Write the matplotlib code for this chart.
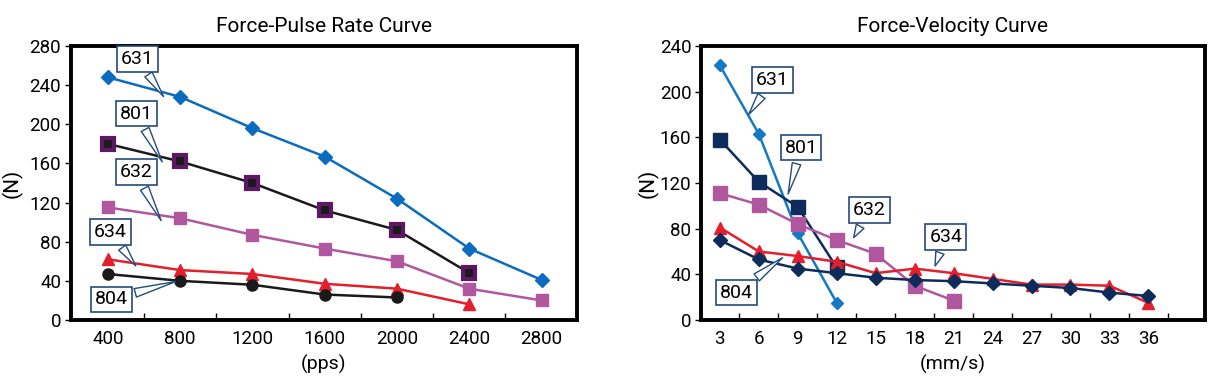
import matplotlib
matplotlib.use('Agg')
from matplotlib import pyplot as plt
from matplotlib.ticker import FixedLocator

plt.rcParams['font.family'] = ['Roboto', 'DejaVu Sans']

# Force-Pulse Rate data
pps = [400, 800, 1200, 1600, 2000, 2400, 2800]
pr_631 = [248, 228, 196, 167, 124, 73, 41]
pr_801 = [180, 162, 140, 112, 92, 48]
pr_632 = [115, 104, 87, 73, 60, 32, 20]
pr_634 = [62, 51, 47, 37, 32, 16]
pr_804 = [47, 40, 36, 26, 23]

# Force-Velocity data
vel = [3, 6, 9, 12, 15, 18, 21, 24, 27, 30, 33, 36]
fv_631 = [223, 163, 76, 15]
fv_801 = [158, 121, 99, 46]
fv_632 = [111, 101, 84, 70, 58, 30, 17]
fv_634 = [81, 60, 56, 51, 41, 45, 41, 36, 31, 31, 30, 15]
fv_804 = [70, 53, 45, 41, 37, 35, 34, 32, 30, 28, 24, 21]

blue = '#0b6cbf'
blue2 = '#1479c4'
purple = '#5e1764'
pink = '#b0579f'
red = '#e21f2b'
navy = '#0d2b5b'
boxc = '#244a7c'

fig = plt.figure(figsize=(12.32, 3.88), dpi=100)
ax1 = fig.add_axes([0.0576, 0.1753, 0.4107, 0.7062])
ax2 = fig.add_axes([0.569, 0.1753, 0.409, 0.7062])


def callout(ax, text, box, tip):
    ax.annotate(text, xy=tip, xytext=box, fontsize=14, ha='center', va='center',
                bbox=dict(boxstyle='square,pad=0.2', fc='white', ec=boxc, lw=1.2),
                arrowprops=dict(arrowstyle='wedge,tail_width=0.45,shrink_factor=0.5',
                                fc='white', ec=boxc, lw=1.0),
                zorder=5)


# left chart
ax1.plot(pps, pr_631, color=blue, lw=1.8, marker='D', ms=7)
ax1.plot(pps[:6], pr_801, color='#1a1a1a', lw=1.8, marker='s', ms=9,
         mfc='#1a1a1a', mec=purple, mew=3)
ax1.plot(pps, pr_632, color=pink, lw=1.8, marker='s', ms=9)
ax1.plot(pps[:6], pr_634, color=red, lw=1.8, marker='^', ms=9)
ax1.plot(pps[:5], pr_804, color='#1a1a1a', lw=1.8, marker='o', ms=8)

callout(ax1, '631', (565, 267), (717, 226))
callout(ax1, '801', (560, 211), (708, 159))
callout(ax1, '632', (557, 151), (702, 99))
callout(ax1, '634', (415, 90), (564, 53))
callout(ax1, '804', (421, 21), (790, 40))

ax1.set_xlim(196, 2996)
ax1.set_ylim(0, 280)
ax1.set_xticks(pps)
ax1.set_yticks(range(0, 281, 40))
ax1.xaxis.set_minor_locator(FixedLocator(range(600, 2700, 400)))
ax1.set_title('Force-Pulse Rate Curve', fontsize=15, pad=10)
ax1.set_xlabel('(pps)', fontsize=14, labelpad=5)
ax1.set_ylabel('(N)', fontsize=15, labelpad=5)

# right chart
ax2.plot(vel[:4], fv_631, color=blue2, lw=1.8, marker='D', ms=6)
ax2.plot(vel[:4], fv_801, color=navy, lw=1.8, marker='s', ms=10)
ax2.plot(vel[:7], fv_632, color=pink, lw=1.8, marker='s', ms=10)
ax2.plot(vel, fv_634, color=red, lw=1.8, marker='^', ms=9)
ax2.plot(vel, fv_804, color=navy, lw=1.8, marker='D', ms=7)

callout(ax2, '631', (7.05, 210), (5.1, 178))
callout(ax2, '801', (9.25, 151), (8.2, 108))
callout(ax2, '632', (14.5, 96), (13.2, 70))
callout(ax2, '634', (20.4, 73), (19.5, 45))
callout(ax2, '804', (4.3, 24), (8.0, 56))

ax2.set_xlim(1.55, 40.35)
ax2.set_ylim(0, 240)
ax2.set_xticks(vel)
ax2.set_yticks(range(0, 241, 40))
ax2.xaxis.set_minor_locator(FixedLocator([v + 1.5 for v in vel]))
ax2.set_title('Force-Velocity Curve', fontsize=15, pad=10)
ax2.set_xlabel('(mm/s)', fontsize=14, labelpad=5)
ax2.set_ylabel('(N)', fontsize=15, labelpad=1)

for ax in (ax1, ax2):
    for sp in ax.spines.values():
        sp.set_linewidth(2.8)
    ax.tick_params(axis='x', which='major', length=0, labelsize=13.5, pad=7)
    ax.tick_params(axis='y', which='major', direction='out', length=4, width=1,
                   labelsize=13.5, pad=3)
    ax.tick_params(axis='x', which='minor', direction='in', length=5, width=1)
    for m in ax.lines:
        m.set_clip_on(False)

plt.savefig('out.png', dpi=100)
